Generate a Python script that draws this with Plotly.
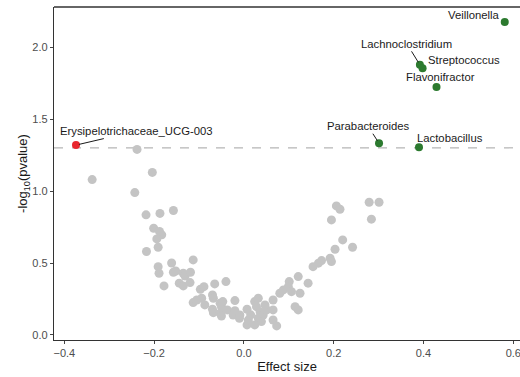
import plotly.graph_objects as go

# Non-significant genera (effect size, -log10 p)
grey_x = [-0.338, -0.238, -0.204, -0.243, -0.218, -0.187, -0.157, -0.201, -0.188, -0.183,
          -0.194, -0.191, -0.217, -0.161, -0.113, -0.191, -0.189, -0.157, -0.152, -0.135,
          -0.131, -0.119, -0.144, -0.135, -0.178, -0.120, -0.097, -0.089, -0.065, -0.040,
          -0.070, -0.068, -0.113, -0.105, -0.094, -0.087, -0.070, -0.068, -0.053, -0.050,
          -0.047, -0.053, -0.050, -0.037, -0.020, -0.020, -0.024, -0.009, -0.010, 0.007,
          0.007, 0.024, 0.032, 0.028, 0.036, 0.043, 0.032, 0.039, 0.024, 0.051,
          0.047, 0.065, 0.065, 0.065, 0.073, 0.010, 0.015, 0.080, 0.088, 0.101,
          0.099, 0.106, 0.121, 0.125, 0.143, 0.114, 0.121, 0.154, 0.166, 0.173,
          0.192, 0.195, 0.203, 0.242, 0.220, 0.195, 0.206, 0.214, 0.279, 0.301,
          0.284]
grey_y = [1.080, 1.290, 1.130, 0.990, 0.835, 0.845, 0.865, 0.742, 0.720, 0.696,
          0.668, 0.610, 0.580, 0.500, 0.522, 0.475, 0.429, 0.436, 0.445, 0.429,
          0.410, 0.436, 0.360, 0.341, 0.341, 0.364, 0.317, 0.336, 0.355, 0.371,
          0.278, 0.255, 0.225, 0.243, 0.255, 0.209, 0.179, 0.155, 0.220, 0.197,
          0.232, 0.151, 0.132, 0.174, 0.239, 0.169, 0.139, 0.139, 0.116, 0.179,
          0.070, 0.232, 0.255, 0.197, 0.162, 0.139, 0.116, 0.093, 0.070, 0.174,
          0.209, 0.243, 0.174, 0.104, 0.063, 0.104, 0.140, 0.290, 0.313, 0.371,
          0.336, 0.301, 0.406, 0.290, 0.360, 0.197, 0.174, 0.475, 0.499, 0.517,
          0.533, 0.510, 0.596, 0.610, 0.661, 0.800, 0.897, 0.874, 0.923, 0.923,
          0.805]

# Significant genera
up_names = ["Veillonella", "Lachnoclostridium", "Streptococcus", "Flavonifractor",
            "Parabacteroides", "Lactobacillus"]
up_x = [0.581, 0.392, 0.398, 0.429, 0.301, 0.390]
up_y = [2.175, 1.878, 1.855, 1.723, 1.333, 1.305]

down_names = ["Erysipelotrichaceae_UCG-003"]
down_x = [-0.374]
down_y = [1.320]

# Label offsets in pixels (dx, dy with dy positive downward), and whether a leader segment is drawn
label_style = {
    "Veillonella": (-31, -7, False),
    "Lachnoclostridium": (-13, -21, True),
    "Streptococcus": (41, -8, False),
    "Flavonifractor": (4, -10, False),
    "Parabacteroides": (-11, -17, True),
    "Lactobacillus": (31, -9, False),
    "Erysipelotrichaceae_UCG-003": (60, -14, True),
}

threshold = 1.301  # -log10(0.05)

x_ticks = [-0.4, -0.2, 0.0, 0.2, 0.4, 0.6]
y_ticks = [0.0, 0.5, 1.0, 1.5, 2.0]

FONT = "Liberation Sans, Arial, sans-serif"

fig = go.Figure()
fig.add_trace(go.Scatter(x=grey_x, y=grey_y, mode="markers",
                         marker=dict(size=9, color="#c4c4c4"), hoverinfo="skip",
                         showlegend=False))
fig.add_trace(go.Scatter(x=up_x, y=up_y, mode="markers", text=up_names,
                         marker=dict(size=8, color="#2c7a2f"), showlegend=False))
fig.add_trace(go.Scatter(x=down_x, y=down_y, mode="markers", text=down_names,
                         marker=dict(size=8, color="#e8262e"), showlegend=False))

# significance threshold and the top border of the panel
fig.add_shape(type="line", xref="paper", yref="y", x0=0, x1=1, y0=threshold, y1=threshold,
              line=dict(color="#b5b5b5", width=1.2, dash="dash"), layer="below")
fig.add_shape(type="line", xref="paper", yref="paper", x0=0, x1=1, y0=1, y1=1,
              line=dict(color="#333333", width=1.3))

label_font = dict(family=FONT, size=11.3, color="#1a1a1a")
for names, xs, ys in [(up_names, up_x, up_y), (down_names, down_x, down_y)]:
    for n, x, y in zip(names, xs, ys):
        dx, dy, seg = label_style[n]
        if seg:
            fig.add_annotation(x=x, y=y, text=n, showarrow=True, ax=dx, ay=dy,
                               arrowhead=0, arrowwidth=1, arrowcolor="#1a1a1a",
                               standoff=3, font=label_font)
        else:
            fig.add_annotation(x=x, y=y, text=n, showarrow=False, xshift=dx, yshift=-dy,
                               font=label_font)

axis_common = dict(showgrid=False, zeroline=False, showline=True, linecolor="#333333",
                   linewidth=1.3, ticks="outside", ticklen=3, tickcolor="#444444",
                   tickfont=dict(family=FONT, size=11, color="#4d4d4d"))

fig.update_layout(
    width=520, height=377,
    margin=dict(l=54, r=0, t=7, b=37),
    plot_bgcolor="white", paper_bgcolor="white",
    xaxis=dict(range=[-0.423, 0.615], tickvals=x_ticks, tickformat=".1f",
               ticklabeloverflow="allow",
               title=dict(text="Effect size", standoff=3,
                          font=dict(family=FONT, size=13, color="#1a1a1a")),
               **axis_common),
    yaxis=dict(range=[-0.035, 2.28], tickvals=y_ticks, tickformat=".1f",
               title=dict(text="-log<sub>10</sub>(pvalue)", standoff=1,
                          font=dict(family=FONT, size=13, color="#1a1a1a")),
               **axis_common),
)

fig.write_html("out.html")
